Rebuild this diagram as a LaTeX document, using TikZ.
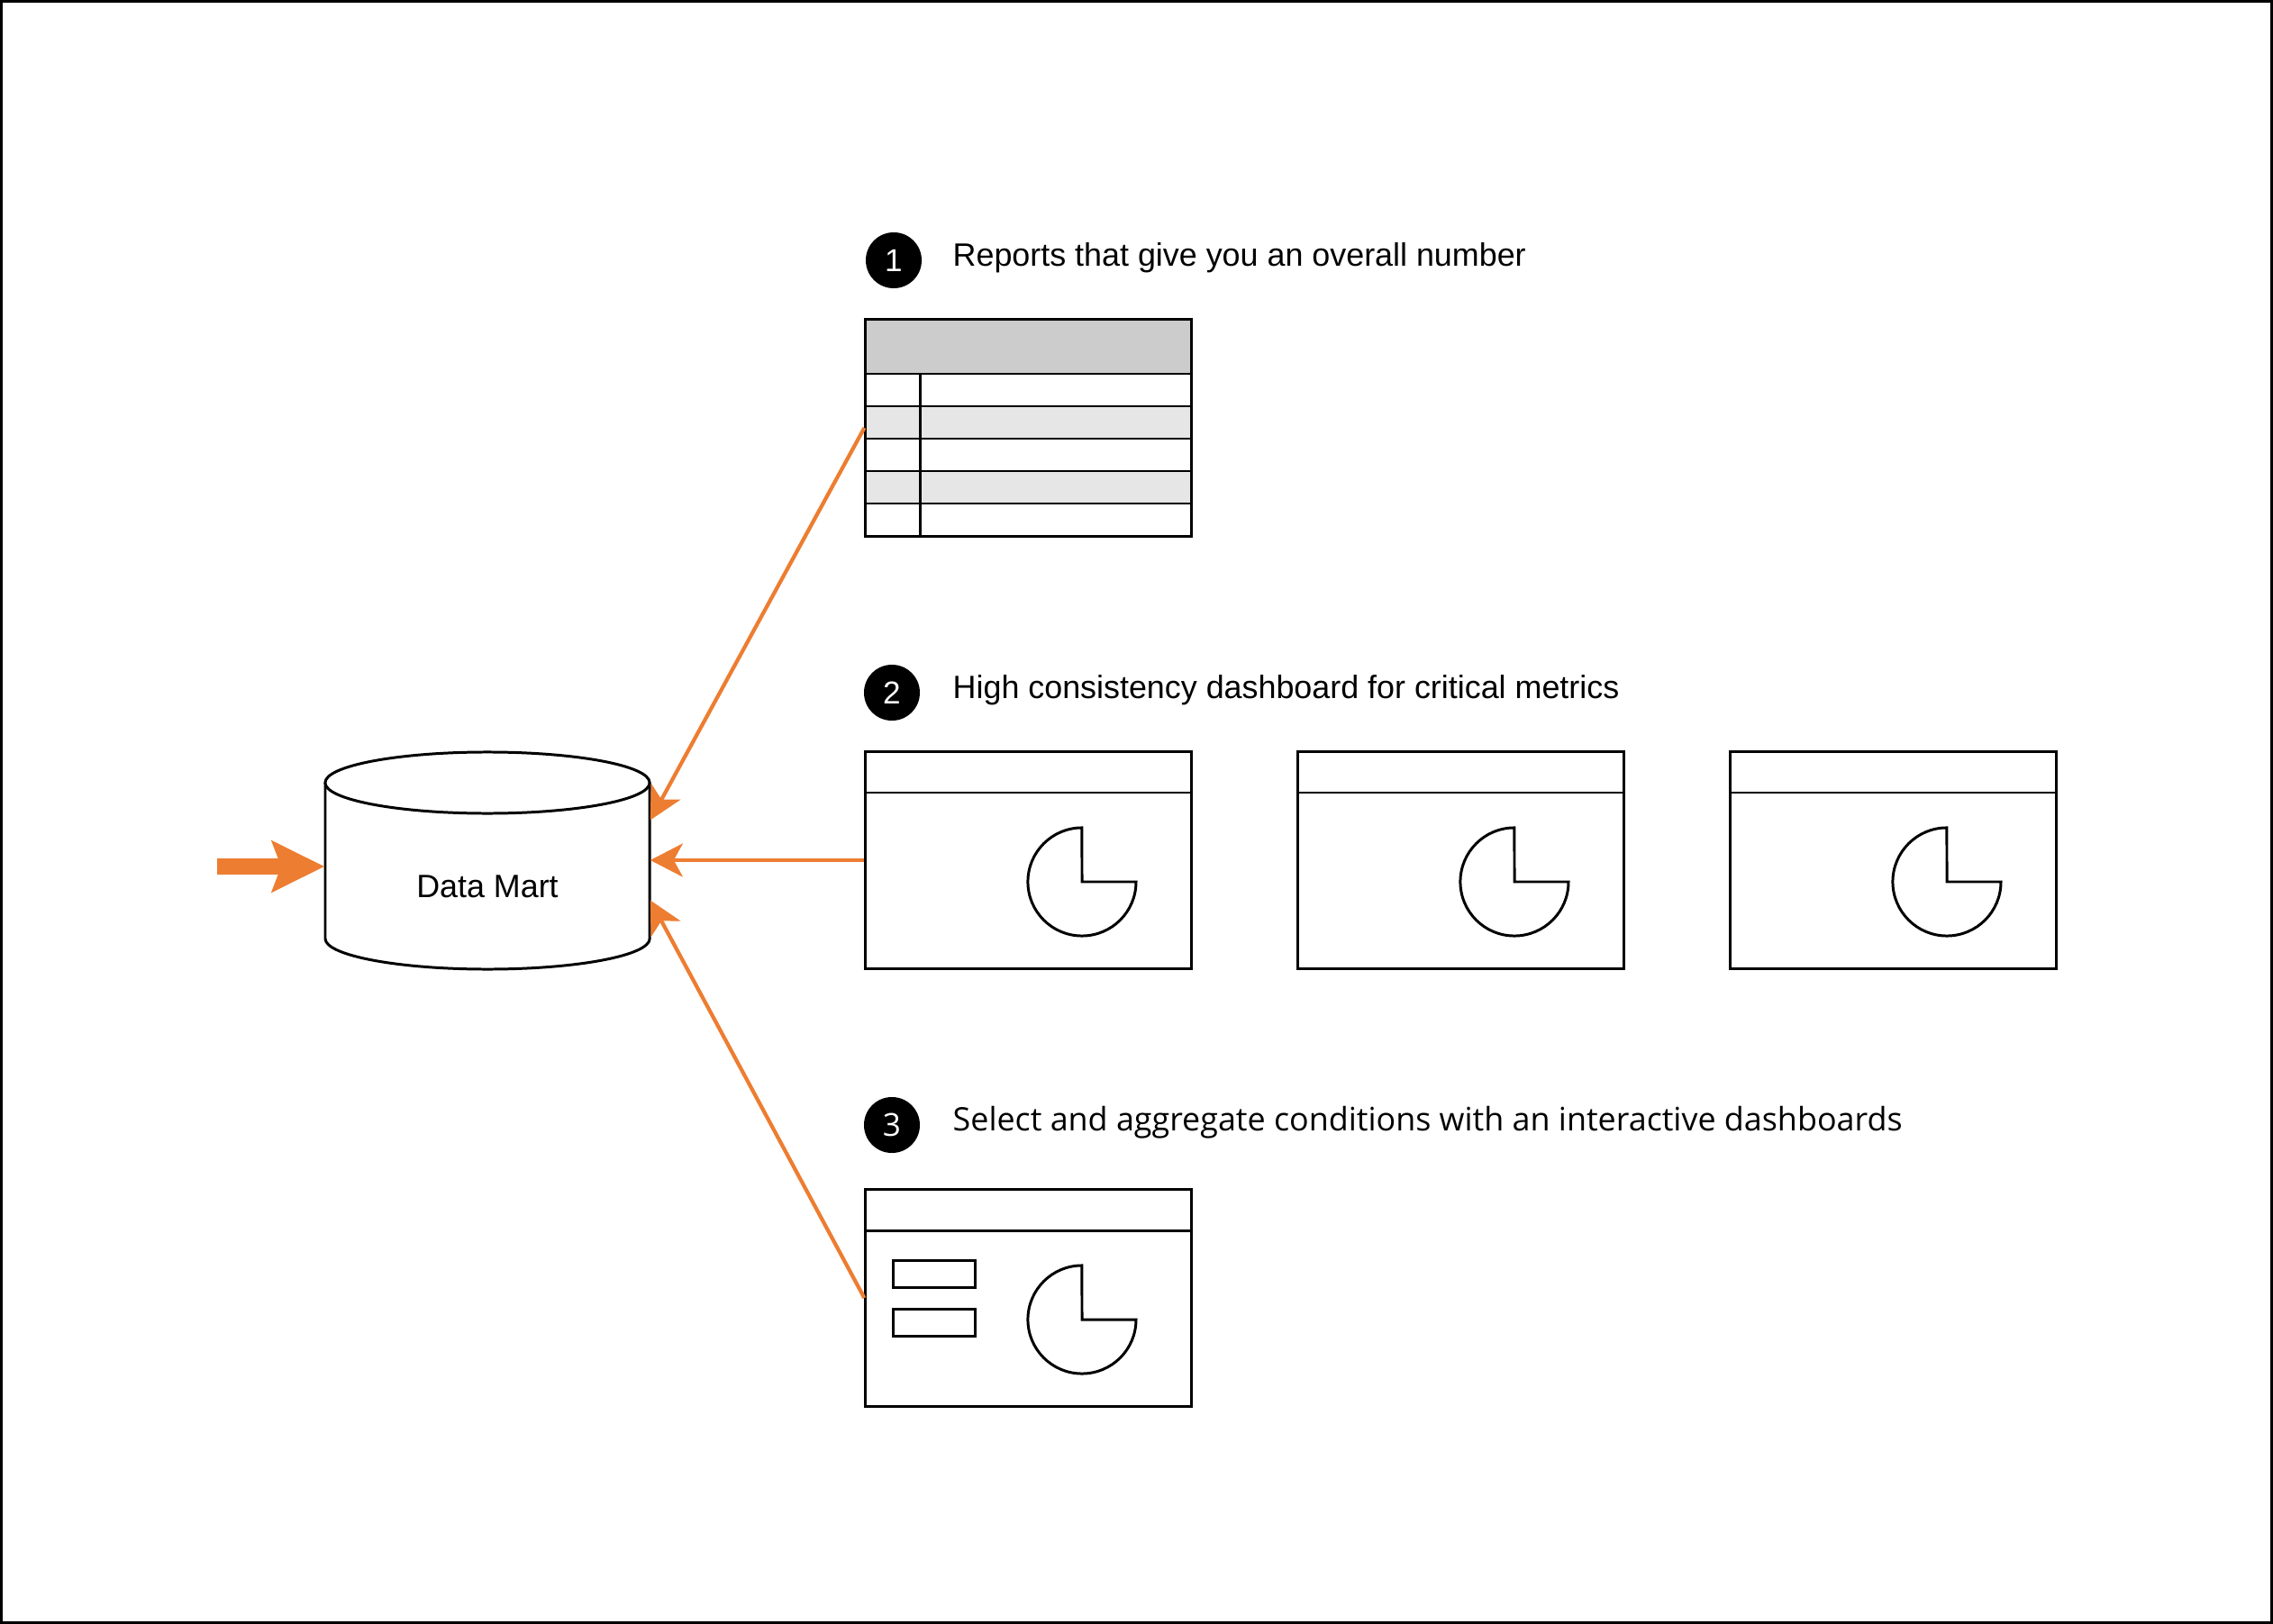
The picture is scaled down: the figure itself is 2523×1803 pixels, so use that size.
\documentclass[tikz,border=0pt]{standalone}
\usepackage{fontspec}
\setmainfont{Liberation Sans}
\newfontfamily\humfont{Open Sans}
\usepackage{tikz}
\usetikzlibrary{arrows.meta,positioning,calc}
\definecolor{dmorange}{HTML}{ED7D31}
\definecolor{dmhead}{HTML}{CCCCCC}
\definecolor{dmrow}{HTML}{E6E6E6}

\begin{document}
\begin{tikzpicture}[x=0.01cm,y=-0.01cm,
  box/.style={draw,line width=0.85pt,minimum width=3.61cm,inner sep=0pt},
  numdot/.style={circle,fill=black,text=white,minimum size=0.62cm,inner sep=0pt,
    font=\fontsize{10}{11}\selectfont},
  caption/.style={anchor=base west,inner sep=0pt,font=\fontsize{10.2}{12}\selectfont},
  feed/.style={dmorange,line width=1.2pt,-{Stealth[length=0.36cm,width=0.37cm,inset=0.1cm]}},
  pie/.style={draw,line width=0.85pt}]
\useasboundingbox (0,0) rectangle (2523,1803);
\draw[line width=0.85pt] (1.5,1.5) rectangle (2521.5,1801.5);

% data mart
\node[minimum width=3.6cm,minimum height=2.41cm,inner sep=0pt] (dm) at (541,955) {};
\draw[line width=0.85pt,fill=white] (361,869) -- (361,1042)
  arc[start angle=180,end angle=360,x radius=1.8cm,y radius=0.34cm] -- (721,869);
\draw[line width=0.85pt,fill=white] (541,869) ellipse[x radius=1.8cm,y radius=0.34cm];
\node[font=\fontsize{10.2}{12}\selectfont] (dmlabel) at (541,984) {Data Mart};
\coordinate (src) at (241,962);
\draw[dmorange,line width=0.18cm,-{Stealth[length=0.58cm,width=0.56cm,inset=0.1cm]}]
  (src) -- (src -| dm.west);

% 1 report table
\node[numdot] (n1) at (992,289) {1};
\node[caption] (t1) at (1057,295) {Reports that give you an overall number};
\fill[dmhead] (961,355) rectangle (1322,415);
\fill[dmrow] (961,451) rectangle (1322,487);
\fill[dmrow] (961,523) rectangle (1322,559);
\node[box,minimum height=2.4cm] (rep) at (1141.5,475) {};
\foreach \y in {415,451,487,523,559}
  \draw[line width=0.85pt] (961,\y) -- (1322,\y);
\draw[line width=0.85pt] (1021,415) -- (1021,595);

% 2 dashboards
\node[numdot] (n2) at (990,769) {2};
\node[caption] (t2) at (1057,775) {High consistency dashboard for critical metrics};
\foreach \i/\x in {a/961,b/1441,c/1921} {
  \node[box,minimum height=2.4cm] (dash\i) at (\x+180.5,955) {};
  \draw[line width=0.85pt] (\x,880) -- (\x+361,880);
  \draw[pie] (\x+240,979) -- (\x+300,979)
    arc[start angle=0,end angle=-270,radius=0.6cm] -- cycle;
}

% 3 interactive dashboard
\node[numdot,font=\humfont\fontsize{10}{11}\selectfont] (n3) at (990,1249) {3};
\node[caption,font=\humfont\fontsize{10.2}{12}\selectfont] (t3) at (1057,1255)
  {Select and aggregate conditions with an interactive dashboards};
\node[box,minimum height=2.4cm] (inter) at (1141.5,1441) {};
\draw[line width=0.85pt] (961,1366) -- (1322,1366);
\draw[line width=0.85pt] (991,1399) rectangle (1082,1429);
\draw[line width=0.85pt] (991,1453) rectangle (1082,1483);
\draw[pie] (1201,1465) -- (1261,1465)
  arc[start angle=0,end angle=-270,radius=0.6cm] -- cycle;

% feeds into the mart
\coordinate (intop) at ($(dm.east)+(0,-44.5)$);
\coordinate (inbot) at ($(dm.east)+(0,44.5)$);
\draw[feed] (rep.west) -- (intop);
\draw[feed] (dasha.west) -- (dm.east);
\draw[feed] (inter.west) -- (inbot);
\end{tikzpicture}
\end{document}
